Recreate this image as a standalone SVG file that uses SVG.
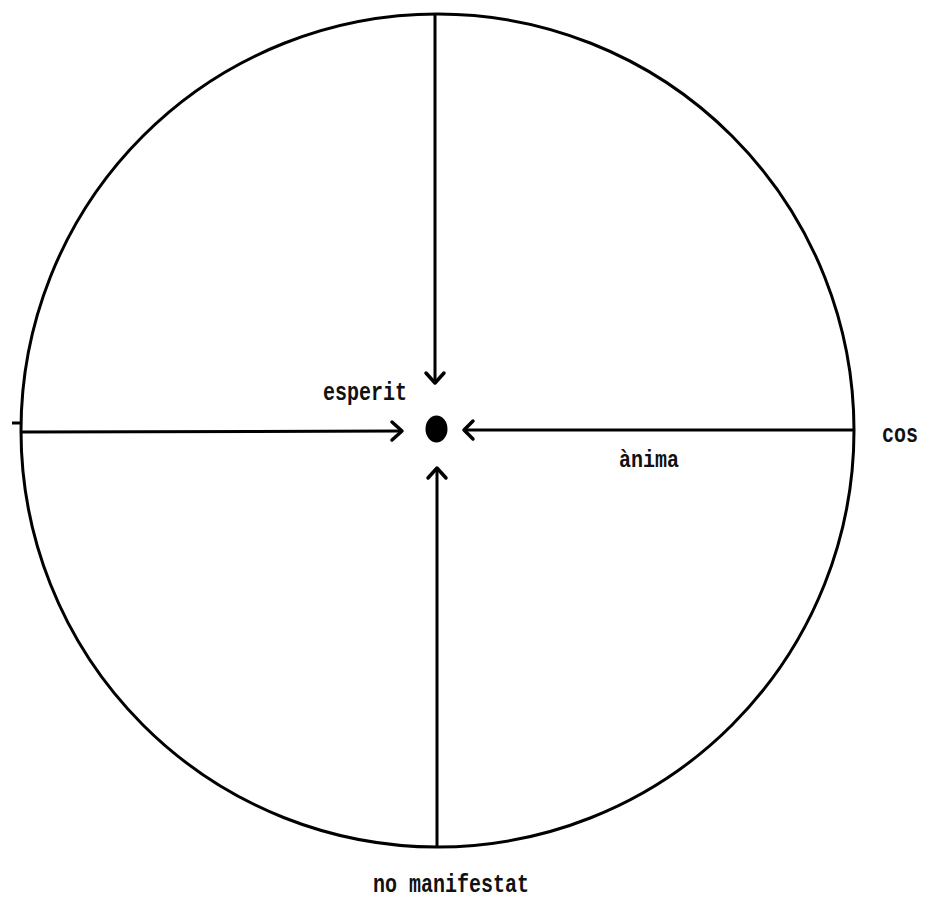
<svg xmlns="http://www.w3.org/2000/svg" width="925" height="898" viewBox="0 0 925 898">
<defs>
<style>
.ln{stroke:#000;stroke-width:3;fill:none}
.ah{stroke:#000;stroke-width:3.5;fill:none;stroke-linecap:round;stroke-linejoin:round}
.lbl{font-family:"Liberation Mono","DejaVu Sans Mono",monospace;font-size:20px;font-weight:bold;fill:#111}
</style>
</defs>
<rect width="925" height="898" fill="#fff"/>
<g id="circle">
<ellipse cx="437.5" cy="430.5" rx="416.5" ry="416.5" class="ln"/>
<line x1="12" y1="423" x2="20" y2="423" class="ln" stroke-width="2"/>
</g>
<g id="center">
<ellipse cx="436.5" cy="429" rx="11" ry="13.5" fill="#000"/>
</g>
<g id="connectors">
<line x1="435" y1="14" x2="435" y2="381" class="ln"/>
<polyline points="426,373 435,383 444,373" class="ah"/>
<line x1="21" y1="432" x2="400" y2="431" class="ln"/>
<polyline points="392,422 402,431 392,440" class="ah"/>
<line x1="854" y1="430" x2="466" y2="430" class="ln"/>
<polyline points="473,421 464,430 473,439" class="ah"/>
<line x1="437" y1="847" x2="437" y2="470" class="ln"/>
<polyline points="428,478 437,468 446,478" class="ah"/>
</g>
<g id="labels">
<text class="lbl" transform="translate(323,400) scale(1,1.3)">esperit</text>
<text class="lbl" transform="translate(619,467) scale(1,1.15)">ànima</text>
<text class="lbl" transform="translate(882,442) scale(1,1.3)">cos</text>
<text class="lbl" transform="translate(373,892) scale(1,1.3)">no manifestat</text>
</g>
</svg>
